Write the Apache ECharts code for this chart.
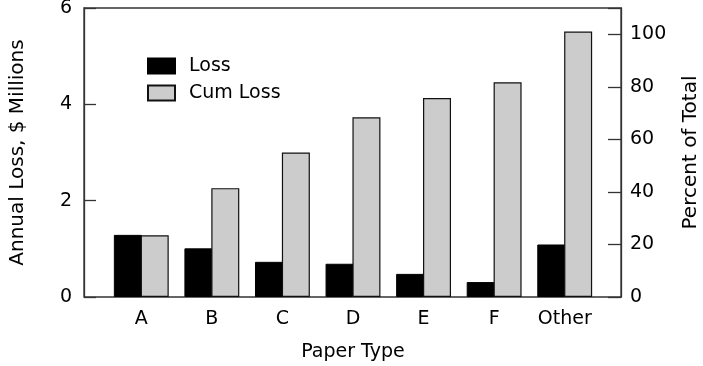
<!DOCTYPE html>
<html>
<head>
<meta charset="utf-8">
<script src="https://cdn.jsdelivr.net/npm/echarts@6/dist/echarts.min.js"></script>
<style>html,body{margin:0;padding:0;background:#fff}#c{width:703px;height:366px}</style>
</head>
<body>
<div id="c"></div>
<script>
const categories = ['A', 'B', 'C', 'D', 'E', 'F', 'Other'];
const lossValues = [1.29, 1.01, 0.73, 0.69, 0.48, 0.31, 1.09];
const cumLossValues = [1.28, 2.26, 3.0, 3.73, 4.13, 4.46, 5.51];
const leftTicks = [0, 2, 4, 6];
const rightTicks = [0, 20, 40, 60, 80, 100];
const seriesNames = ['Loss', 'Cum Loss'];

const FONT = 'DejaVu Sans, sans-serif';
const txt = { color: '#000', fontFamily: FONT, fontSize: 19 };
const nameTxt = { color: '#000', fontFamily: FONT, fontSize: 20 };
const axisCol = '#333';

const chart = echarts.init(document.getElementById('c'), null, { renderer: 'canvas' });
chart.setOption({
  animation: false,
  backgroundColor: '#fff',
  grid: [
    { left: 84, right: 82, top: 8, bottom: 69, show: true, borderColor: axisCol, borderWidth: 1.3, backgroundColor: 'transparent', containLabel: false, outerBoundsMode: 'none' },
    { left: 106, right: 103, top: 8, bottom: 69, containLabel: false, outerBoundsMode: 'none' }
  ],
  legend: {
    data: seriesNames,
    orient: 'vertical',
    left: 142,
    top: 51,
    icon: 'rect',
    itemWidth: 27,
    itemHeight: 15,
    itemGap: 7,
    textStyle: Object.assign({}, txt, { padding: [0, 0, 0, 9], lineHeight: 20 })
  },
  xAxis: [
    { gridIndex: 0, type: 'value', min: 0, max: 1, show: false },
    {
      gridIndex: 1, type: 'category', data: categories,
      axisLine: { show: false }, axisTick: { show: false },
      axisLabel: Object.assign({}, txt, { margin: 13 }),
      name: 'Paper Type', nameLocation: 'middle', nameGap: 46,
      nameTextStyle: txt
    }
  ],
  yAxis: [
    {
      gridIndex: 0, type: 'value', min: 0, max: leftTicks[leftTicks.length - 1], interval: 2,
      position: 'left',
      axisLine: { show: true, lineStyle: { color: axisCol, width: 1.3 } },
      axisTick: { show: true, inside: true, length: 12, lineStyle: { color: axisCol, width: 1.3 } },
      axisLabel: Object.assign({}, txt, { margin: 12 }),
      splitLine: { show: false },
      name: 'Annual Loss, $ Millions', nameLocation: 'middle', nameGap: 56,
      nameTextStyle: nameTxt
    },
    {
      gridIndex: 0, type: 'value', min: 0, max: 110, interval: 20,
      position: 'right',
      axisLine: { show: true, lineStyle: { color: axisCol, width: 1.3 } },
      axisTick: { show: true, inside: true, length: 13, lineStyle: { color: axisCol, width: 1.3 } },
      axisLabel: Object.assign({}, txt, {
        margin: 9,
        formatter: v => rightTicks.indexOf(v) >= 0 ? String(v) : ''
      }),
      splitLine: { show: false },
      name: 'Percent of Total', nameLocation: 'middle', nameGap: 60, nameRotate: 90,
      nameTextStyle: nameTxt
    },
    { gridIndex: 1, type: 'value', min: 0, max: 6, show: false }
  ],
  series: [
    {
      name: seriesNames[0], type: 'bar', xAxisIndex: 1, yAxisIndex: 2,
      data: lossValues, barWidth: 28, barGap: '-4%',
      itemStyle: { color: '#000', borderColor: '#000', borderWidth: 1 }
    },
    {
      name: seriesNames[1], type: 'bar', xAxisIndex: 1, yAxisIndex: 2,
      data: cumLossValues, barWidth: 28,
      itemStyle: { color: '#cccccc', borderColor: '#111', borderWidth: 1.2 }
    }
  ]
});
</script>
</body>
</html>
